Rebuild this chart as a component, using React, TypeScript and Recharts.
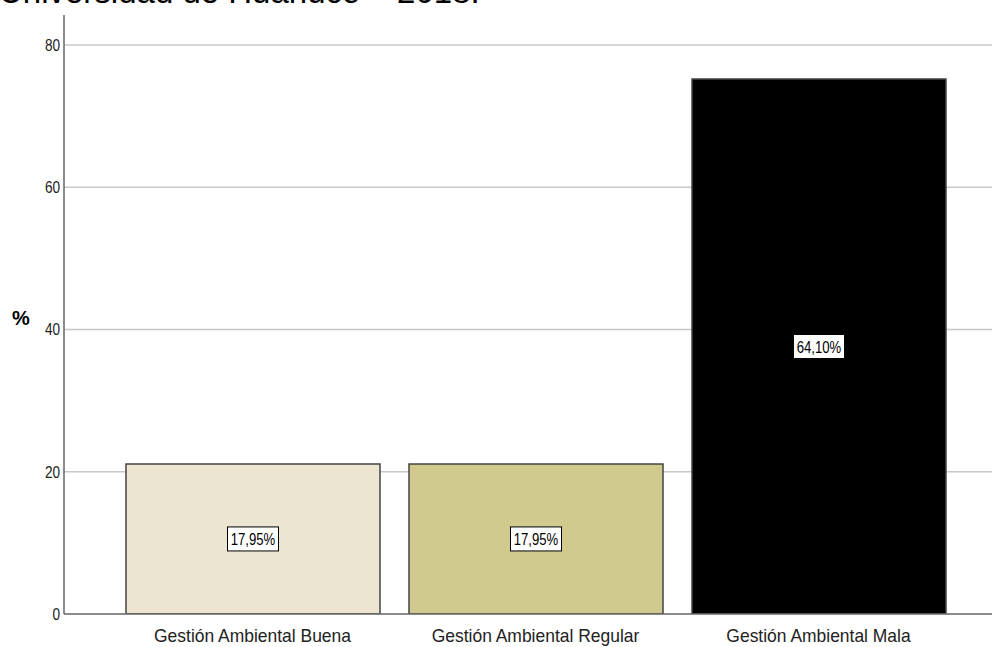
import React from "react";
import { Bar, BarChart, CartesianGrid, Cell, LabelList, XAxis, YAxis } from "recharts";

const categories = [
  "Gestión Ambiental Buena",
  "Gestión Ambiental Regular",
  "Gestión Ambiental Mala",
];
const values = [21.1, 21.1, 75.2];
const pctLabels = ["17,95%", "17,95%", "64,10%"];
const colors = ["#ECE5D1", "#D1CA8F", "#000000"];
const yTicks = [0, 20, 40, 60, 80];
const gridValues = [20, 40, 60, 80];
const title = "Universidad de Huánuco – 2018.";

const data = categories.map((name, i) => ({ name, value: values[i], label: pctLabels[i] }));

const SANS = "'Liberation Sans', Arial, sans-serif";

// no narrow font installed, so squeeze the regular one horizontally
function XTick(props: any) {
  const { x, y, payload } = props;
  return (
    <g transform={`translate(${x},${y + 28}) scale(0.97,1)`}>
      <text x={0} y={0} textAnchor="middle" fontFamily={SANS} fontSize={18} fill="#222">
        {payload.value}
      </text>
    </g>
  );
}

function YTick(props: any) {
  const { x, y, payload } = props;
  return (
    <g transform={`translate(${x},${y + 6}) scale(0.85,1)`}>
      <text x={0} y={0} textAnchor="end" fontFamily={SANS} fontSize={16} fill="#222">
        {payload.value}
      </text>
    </g>
  );
}

function BoxLabel(props: any) {
  const { x, y, width, height, value } = props;
  const cx = x + width / 2;
  const cy = y + height / 2;
  return (
    <g>
      <rect x={cx - 25.5} y={cy - 12} width={51} height={24} fill="#fff" stroke="#000" strokeWidth={1} />
      <g transform={`translate(${cx},${cy + 6}) scale(0.82,1)`}>
        <text x={0} y={0} textAnchor="middle" fontFamily={SANS} fontSize={16} fill="#000">
          {value}
        </text>
      </g>
    </g>
  );
}

export default function App() {
  return (
    <div style={ { position: "absolute", left: 0, top: 0, width: 992, height: 647, background: "#fff", overflow: "hidden" } }>
      <svg width={992} height={20} style={ { position: "absolute", left: 0, top: 0 } }>
        <text x={-1} y={3} fontFamily={SANS} fontSize={33} fill="#000">
          {title}
        </text>
      </svg>
      <BarChart
        width={992}
        height={647}
        data={data}
        margin={ { top: 15, right: 0, bottom: 0, left: 0 } }
        style={ { position: "absolute", left: 0, top: 0 } }
      >
        <CartesianGrid vertical={false} horizontalValues={gridValues} stroke="#C8C8C8" strokeWidth={1.5} />
        <XAxis
          dataKey="name"
          height={33}
          padding={ { left: 47, right: 32 } }
          tickLine={false}
          tickSize={0}
          tickMargin={0}
          axisLine={ { stroke: "#666", strokeWidth: 1.5 } }
          tick={<XTick />}
          interval={0}
        />
        <YAxis
          width={64}
          domain={[0, 84.2]}
          ticks={yTicks}
          tickLine={false}
          tickSize={0}
          tickMargin={4}
          axisLine={ { stroke: "#666", strokeWidth: 1.5 } }
          tick={<YTick />}
          allowDataOverflow
          label={ { value: "%", position: "insideLeft", offset: 12, angle: 0, fontFamily: SANS, fontSize: 20, fontWeight: "bold", fill: "#000", dy: 3 } }
        />
        <Bar dataKey="value" barSize={254} stroke="#444" strokeWidth={1.5} isAnimationActive={false}>
          {data.map((d, i) => (
            <Cell key={d.name} fill={colors[i]} />
          ))}
          <LabelList dataKey="label" content={<BoxLabel />} />
        </Bar>
      </BarChart>
    </div>
  );
}
